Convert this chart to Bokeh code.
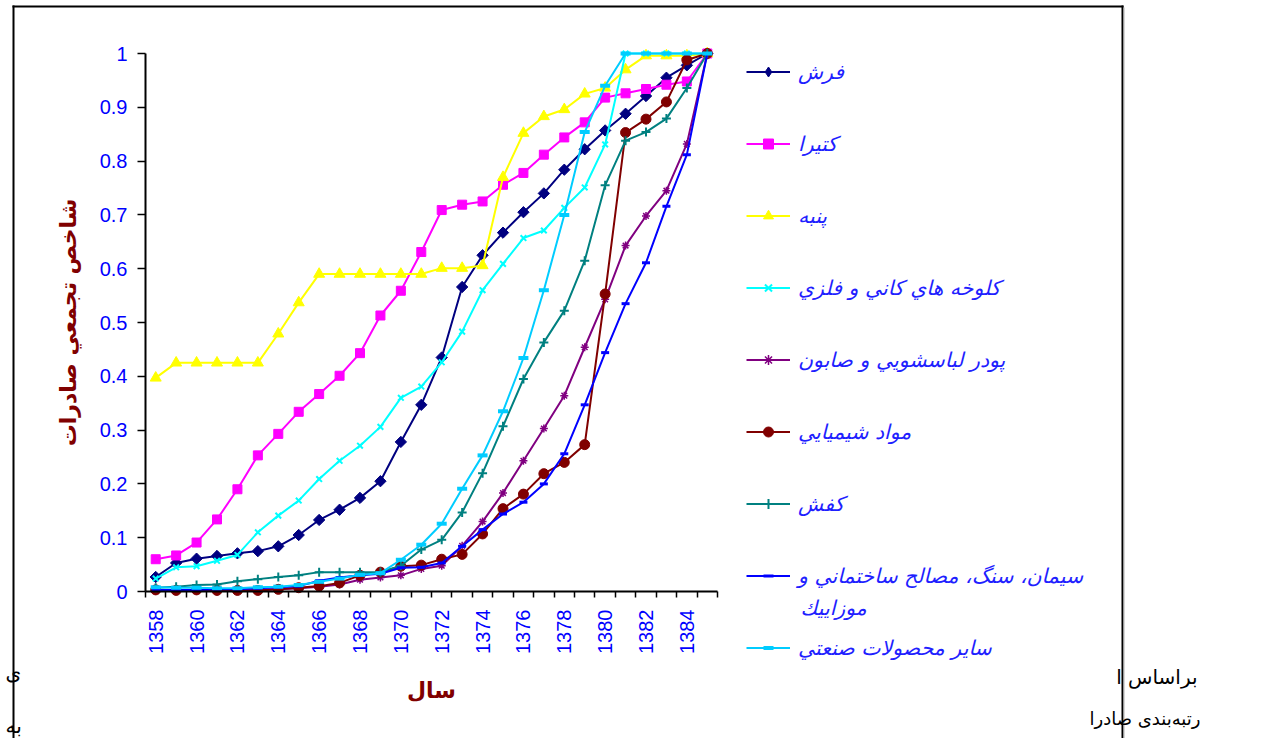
import math
from bokeh.plotting import figure
from bokeh.models import (Range1d, FixedTicker, Legend, LegendItem, Label,
                          BoxAnnotation, NumeralTickFormatter)
from bokeh.embed import file_html
from bokeh.resources import INLINE

# ---------------- data ----------------
years = [1358, 1359, 1360, 1361, 1362, 1363, 1364, 1365, 1366, 1367,
         1368, 1369, 1370, 1371, 1372, 1373, 1374, 1375, 1376, 1377,
         1378, 1379, 1380, 1381, 1382, 1383, 1384, 1385]
x_label_years = [1358, 1360, 1362, 1364, 1366, 1368, 1370, 1372, 1374,
                 1376, 1378, 1380, 1382, 1384]
y_ticks = [0, 0.1, 0.2, 0.3, 0.4, 0.5, 0.6, 0.7, 0.8, 0.9, 1]

farsh = [0.027, 0.053, 0.061, 0.066, 0.071, 0.075, 0.084, 0.105, 0.133, 0.152,
         0.174, 0.205, 0.278, 0.347, 0.435, 0.566, 0.625, 0.667, 0.705, 0.740,
         0.784, 0.822, 0.857, 0.888, 0.921, 0.955, 0.978, 1.0]
katira = [0.060, 0.067, 0.091, 0.134, 0.190, 0.253, 0.293, 0.334, 0.367, 0.401,
          0.443, 0.513, 0.559, 0.631, 0.709, 0.719, 0.725, 0.756, 0.778, 0.812,
          0.844, 0.872, 0.918, 0.926, 0.934, 0.942, 0.948, 1.0]
panbe = [0.397, 0.425, 0.425, 0.425, 0.425, 0.425, 0.479, 0.537, 0.590, 0.590,
         0.590, 0.590, 0.590, 0.590, 0.601, 0.601, 0.606, 0.770, 0.852, 0.883,
         0.896, 0.925, 0.936, 0.970, 0.996, 0.996, 0.996, 1.0]
kolukhe = [0.024, 0.045, 0.047, 0.057, 0.068, 0.110, 0.141, 0.169, 0.209, 0.243,
           0.271, 0.306, 0.360, 0.381, 0.426, 0.483, 0.560, 0.609, 0.657, 0.671,
           0.713, 0.751, 0.831, 1.0, 1.0, 1.0, 1.0, 1.0]
podr = [0.001, 0.001, 0.002, 0.002, 0.002, 0.003, 0.004, 0.006, 0.009, 0.013,
        0.022, 0.026, 0.030, 0.042, 0.048, 0.085, 0.130, 0.183, 0.243, 0.303,
        0.364, 0.454, 0.543, 0.643, 0.698, 0.745, 0.832, 1.0]
mavad = [0.003, 0.002, 0.003, 0.002, 0.002, 0.002, 0.004, 0.007, 0.010, 0.016,
         0.030, 0.036, 0.047, 0.049, 0.060, 0.069, 0.107, 0.154, 0.181, 0.219,
         0.240, 0.273, 0.553, 0.853, 0.878, 0.910, 0.988, 1.0]
kafsh = [0.007, 0.009, 0.012, 0.013, 0.019, 0.023, 0.027, 0.030, 0.036, 0.036,
         0.036, 0.036, 0.048, 0.078, 0.096, 0.147, 0.220, 0.307, 0.395, 0.463,
         0.522, 0.615, 0.755, 0.838, 0.854, 0.879, 0.936, 1.0]
siman = [0.003, 0.003, 0.003, 0.004, 0.004, 0.006, 0.008, 0.010, 0.020, 0.026,
         0.030, 0.033, 0.044, 0.045, 0.053, 0.084, 0.115, 0.144, 0.166, 0.200,
         0.256, 0.347, 0.444, 0.535, 0.611, 0.716, 0.812, 1.0]
sayer = [0.008, 0.007, 0.007, 0.006, 0.006, 0.008, 0.009, 0.012, 0.018, 0.024,
         0.031, 0.034, 0.059, 0.087, 0.126, 0.191, 0.253, 0.335, 0.434, 0.560,
         0.700, 0.854, 0.940, 1.0, 1.0, 1.0, 1.0, 1.0]

series_names = ["فرش", "کتيرا", "پنبه", "کلوخه هاي کاني و فلزي",
                "پودر لباسشويي و صابون", "مواد شيميايي", "کفش",
                "سيمان، سنگ، مصالح ساختماني و", "ساير محصولات صنعتي"]
name_second_line = "موزاييك"
series_values = [farsh, katira, panbe, kolukhe, podr, mavad, kafsh, siman, sayer]

y_title = "شاخص تجمعي صادرات"
x_title = "سال"
doc_text_right_1 = "براساس ا"
doc_text_right_2 = "رتبه\u200cبندی صادرا"
doc_text_left_1 = "ی"
doc_text_left_2 = "به"

# ---------------- styles ----------------
colors = ["#000080", "#FF00FF", "#FFFF00", "#00FFFF", "#800080",
          "#800000", "#008080", "#0000FF", "#00CCFF"]
markers = ["square", "square", "triangle", "x", "asterisk",
           "circle", "cross", "dash", "dash"]
legend_markers = ["diamond", "square", "triangle", "x", "asterisk",
                  "circle", "cross", "dash", "dash"]
angles = [math.pi / 4, 0, 0, 0, 0, 0, 0, 0, 0]
msizes = [8, 9, 11, 8, 8, 10, 9, 8, 10]
mlw = [1, 1, 1, 2, 1.5, 1, 2, 3, 4]
FILLED = ("square", "diamond", "triangle", "circle")

W, H = 1263, 738
# the whole canvas is the frame; scales chosen so the axes land where the
# reference draws them (x: 1357.5 -> 145px, 1385.5 -> 717px; y: 0 -> 591px, 1 -> 53px)
XS = (717 - 145) / 28.0
YS = 591 - 53.0
x0 = 1357.5 - 145 / XS
y0 = -(H - 591) / YS

p = figure(width=W, height=H, output_backend="svg", toolbar_location=None,
           x_range=Range1d(x0, x0 + W / XS),
           y_range=Range1d(y0, y0 + H / YS),
           min_border=0, min_border_left=0, min_border_right=0,
           min_border_top=0, min_border_bottom=0)
p.outline_line_color = None
p.xgrid.grid_line_color = None
p.ygrid.grid_line_color = None
p.background_fill_color = "white"
p.border_fill_color = "white"

def sy(page_y):
    return H - page_y

def bar(l, r, t, b, color="black"):
    p.add_layout(BoxAnnotation(left=l, right=r, top=sy(t), bottom=sy(b),
                               left_units="screen", right_units="screen",
                               top_units="screen", bottom_units="screen",
                               fill_color=color, fill_alpha=1,
                               line_color=None, level="underlay"))

# outer chart box (left, top, right edges; the bottom edge lies below the window)
bar(12, 14, 5, 760)
bar(12, 1123, 5, 7)
bar(1121, 1123, 5, 760)
bar(1123, 1124, 7, 760, "#b0b0b0")

renderers = []
for vals, c, m, lm, a, s, lw in zip(series_values, colors, markers, legend_markers,
                                    angles, msizes, mlw):
    lr = p.line(years, vals, line_color=c, line_width=2)
    sr = p.scatter(years, vals, marker=m, size=s, angle=a, line_color=c,
                   fill_color=c if m in FILLED else None, line_width=lw)
    if lm != m:
        # legend-only glyph (the legend does not rotate markers)
        sr = p.scatter([years[0]], [vals[0]], marker=lm, size=s, line_color=c,
                       fill_color=c if lm in FILLED else None, line_width=lw,
                       visible=False)
    renderers.append((lr, sr))

# axes
xa = p.xaxis[0]
xa.fixed_location = 0
xa.bounds = (1357.5, 1385.5)
xa.ticker = FixedTicker(ticks=x_label_years,
                        minor_ticks=[y - 0.5 for y in years] + [years[-1] + 0.5])
xa.formatter = NumeralTickFormatter(format="0")
xa.major_label_orientation = math.pi / 2
xa.major_tick_line_color = None
xa.major_tick_out = 6
xa.major_tick_in = 0
xa.minor_tick_out = 6
xa.minor_tick_in = 0
xa.minor_tick_line_color = "black"
xa.minor_tick_line_width = 1.5
xa.axis_line_color = "black"
xa.axis_line_width = 2
xa.major_label_standoff = 12
xa.major_label_text_font = "Liberation Sans"
xa.major_label_text_font_size = "20px"
xa.major_label_text_color = "#0000FF"
xa.axis_label = x_title
xa.axis_label_text_font = "DejaVu Sans"
xa.axis_label_text_font_style = "bold"
xa.axis_label_text_font_size = "22px"
xa.axis_label_text_color = "#800000"
xa.axis_label_standoff = 21

ya = p.yaxis[0]
ya.fixed_location = 1357.5
ya.bounds = (0, 1)
ya.ticker = FixedTicker(ticks=y_ticks, minor_ticks=[])
ya.formatter = NumeralTickFormatter(format="0.[0]")
ya.major_tick_out = 8
ya.major_tick_in = 0
ya.major_tick_line_color = "black"
ya.major_tick_line_width = 1.5
ya.minor_tick_line_color = None
ya.axis_line_color = "black"
ya.axis_line_width = 2
ya.major_label_standoff = 10
ya.major_label_text_font = "Liberation Sans"
ya.major_label_text_font_size = "20px"
ya.major_label_text_color = "#0000FF"
ya.axis_label = y_title
ya.axis_label_text_font = "DejaVu Sans"
ya.axis_label_text_font_style = "bold"
ya.axis_label_text_font_size = "22px"
ya.axis_label_text_color = "#800000"
ya.axis_label_standoff = 16

# legend
items = [LegendItem(label=n, renderers=[lr, sr])
         for n, (lr, sr) in zip(series_names, renderers)]
legend = Legend(items=items, location=(746, sy(660)), orientation="vertical",
                padding=0, margin=0, spacing=47, glyph_width=44, glyph_height=25,
                label_height=25, label_standoff=8, border_line_color=None,
                background_fill_alpha=0,
                label_text_font="DejaVu Sans", label_text_font_style="italic",
                label_text_font_size="20.5px", label_text_color="#1F1FFF")
p.add_layout(legend)

p.add_layout(Label(x=800, y=sy(607), x_units="screen", y_units="screen",
                   text=name_second_line, text_align="left", text_baseline="middle",
                   text_font="DejaVu Sans", text_font_style="italic",
                   text_font_size="20.5px", text_color="#1F1FFF"))

# surrounding document text
for t, px_, py_, al, fs in [(doc_text_right_1, 1197, 676, "right", "20px"),
                            (doc_text_right_2, 1200, 718, "right", "18px"),
                            (doc_text_left_1, 5, 672, "left", "20px"),
                            (doc_text_left_2, 5, 725, "left", "20px")]:
    p.add_layout(Label(x=px_, y=sy(py_), x_units="screen", y_units="screen",
                       text=t, text_align=al, text_baseline="middle",
                       text_font="DejaVu Sans", text_font_size=fs,
                       text_color="black"))

open("out.html", "w").write(file_html(p, INLINE))
